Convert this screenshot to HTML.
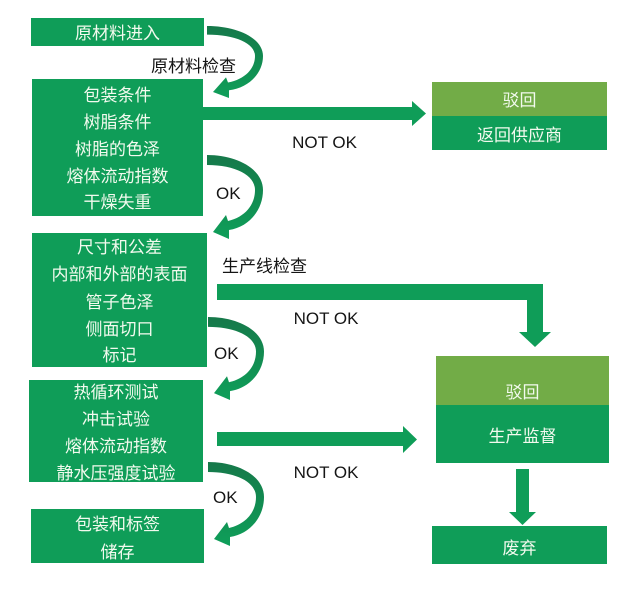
<!DOCTYPE html>
<html>
<head>
<meta charset="utf-8">
<style>
html,body{margin:0;padding:0;background:#fff;}
svg{display:block;}
text{font-family:"Liberation Sans","Noto Sans CJK SC","WenQuanYi Zen Hei",sans-serif;font-size:17px;}
.w{fill:#F2FAEE;text-anchor:middle;}
.b{fill:#151515;}
.bc{fill:#151515;text-anchor:middle;}
</style>
</head>
<body>
<svg width="640" height="608" viewBox="0 0 640 608" xmlns="http://www.w3.org/2000/svg">
<defs>
<linearGradient id="cg" x1="0" y1="0" x2="0" y2="1">
<stop offset="0" stop-color="#16784A"/>
<stop offset="0.45" stop-color="#128A50"/>
<stop offset="1" stop-color="#0F9F5A"/>
</linearGradient>
<path id="carrow" d="M0 0 C30 0,56 14,56 35 C56 55,42 72,22 75 L22 84 L6 77 L19 60 L21 66 C38 62,48 50,48 35 C48 20,28 10,0 10 Z"/>
</defs>

<!-- Boxes -->
<rect x="31" y="18" width="173" height="28" fill="#0F9D58"/>
<rect x="32" y="79" width="171" height="137" fill="#0F9D58"/>
<rect x="32" y="233" width="175" height="134" fill="#0F9D58"/>
<rect x="29" y="380" width="174" height="102" fill="#0F9D58"/>
<rect x="31" y="509" width="173" height="54" fill="#0F9D58"/>

<rect x="432" y="82" width="175" height="34" fill="#72AC47"/>
<rect x="432" y="116" width="175" height="34" fill="#0F9D58"/>
<rect x="436" y="356" width="173" height="49" fill="#72AC47"/>
<rect x="436" y="405" width="173" height="58" fill="#0F9D58"/>
<rect x="432" y="526" width="175" height="38" fill="#0F9D58"/>

<!-- Straight arrows -->
<rect x="203" y="107" width="210" height="13" fill="#0F9D58"/>
<polygon points="412,101 426,113.5 412,126" fill="#0F9D58"/>

<rect x="217" y="284" width="326" height="16" fill="#0F9D58"/>
<rect x="527" y="284" width="16" height="49" fill="#0F9D58"/>
<polygon points="519,332 551,332 535,347" fill="#0F9D58"/>

<rect x="217" y="432" width="187" height="14" fill="#0F9D58"/>
<polygon points="403,426 417,439.5 403,453" fill="#0F9D58"/>

<rect x="516" y="469" width="13" height="44" fill="#0F9D58"/>
<polygon points="509,512 536,512 522.5,525" fill="#0F9D58"/>

<!-- Curved arrows -->
<use href="#carrow" fill="url(#cg)" transform="translate(207,26) scale(1,0.857)"/>
<use href="#carrow" fill="url(#cg)" transform="translate(207,155)"/>
<use href="#carrow" fill="url(#cg)" transform="translate(208,317) scale(1,0.988)"/>
<use href="#carrow" fill="url(#cg)" transform="translate(208,462)"/>

<!-- Box texts -->
<text class="w" x="117.5" y="39">原材料进入</text>

<text class="w" x="117.5" y="101">包装条件</text>
<text class="w" x="117.5" y="128">树脂条件</text>
<text class="w" x="117.5" y="155">树脂的色泽</text>
<text class="w" x="117.5" y="182">熔体流动指数</text>
<text class="w" x="117.5" y="208">干燥失重</text>

<text class="w" x="119.5" y="253">尺寸和公差</text>
<text class="w" x="119.5" y="280">内部和外部的表面</text>
<text class="w" x="119.5" y="308">管子色泽</text>
<text class="w" x="119.5" y="335">侧面切口</text>
<text class="w" x="119.5" y="361">标记</text>

<text class="w" x="116" y="398">热循环测试</text>
<text class="w" x="116" y="425">冲击试验</text>
<text class="w" x="116" y="452">熔体流动指数</text>
<text class="w" x="116" y="479">静水压强度试验</text>

<text class="w" x="117.5" y="530">包装和标签</text>
<text class="w" x="117.5" y="558">储存</text>

<text class="w" x="519.5" y="106">驳回</text>
<text class="w" x="519.5" y="141">返回供应商</text>
<text class="w" x="522.5" y="398">驳回</text>
<text class="w" x="522.5" y="442">生产监督</text>
<text class="w" x="519.5" y="554">废弃</text>

<!-- Labels -->
<text class="bc" x="193.5" y="72">原材料检查</text>
<text class="bc" x="324.5" y="148">NOT OK</text>
<text class="b" x="216" y="199">OK</text>
<text class="b" x="222" y="272">生产线检查</text>
<text class="bc" x="326" y="324">NOT OK</text>
<text class="b" x="214" y="359">OK</text>
<text class="bc" x="326" y="478">NOT OK</text>
<text class="b" x="213" y="503">OK</text>
</svg>
</body>
</html>
